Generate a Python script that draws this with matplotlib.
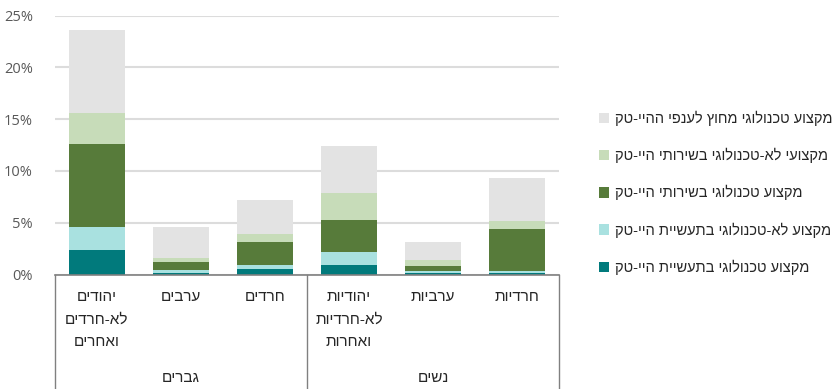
import matplotlib
matplotlib.use("agg")
import matplotlib.pyplot as plt
import matplotlib.transforms as mtransforms
from matplotlib.lines import Line2D
from matplotlib.patches import Patch
import numpy as np

plt.rcParams["font.family"] = ["Open Sans", "DejaVu Sans"]
HEB_FONT = ["Liberation Sans", "DejaVu Sans"]

# data (percent), bottom to top of each stack
categories = ["יהודים\nלא-חרדים\nואחרים", "ערבים", "חרדים",
              "יהודיות\nלא-חרדיות\nואחרות", "ערביות", "חרדיות"]
groups = ["גברים", "נשים"]
tech_in_industry = [2.4, 0.15, 0.55, 0.9, 0.1, 0.15]
nontech_in_industry = [2.2, 0.33, 0.4, 1.3, 0.22, 0.15]
tech_in_services = [8.0, 0.7, 2.2, 3.05, 0.5, 4.05]
nontech_in_services = [3.0, 0.4, 0.75, 2.65, 0.58, 0.8]
tech_outside = [8.0, 3.0, 3.25, 4.5, 1.75, 4.2]
series_labels = ["מקצוע טכנולוגי בתעשיית היי-טק",
                 "מקצוע לא-טכנולוגי בתעשיית היי-טק",
                 "מקצוע טכנולוגי בשירותי היי-טק",
                 "מקצועי לא-טכנולוגי בשירותי היי-טק",
                 "מקצוע טכנולוגי מחוץ לענפי ההיי-טק"]
colors = ["#017a7c", "#a9e1e0", "#577b3a", "#c7dcb9", "#e3e3e3"]
yticks = [0, 5, 10, 15, 20, 25]


def heb(s):
    # matplotlib has no bidi, so flip each line to visual order
    return "\n".join(line[::-1] for line in s.split("\n"))


fig = plt.figure(figsize=(8.34, 3.89), dpi=100)
W, H = 834, 389
ax = fig.add_axes([55 / W, 1 - 274.5 / H, 504 / W, 259 / H])

x = np.arange(len(categories))
series = [tech_in_industry, nontech_in_industry, tech_in_services,
          nontech_in_services, tech_outside]
bottom = np.zeros(len(categories))
handles = []
for vals, col, lab in zip(series, colors, series_labels):
    ax.bar(x, vals, bottom=bottom, width=0.667, color=col, linewidth=0, zorder=3)
    bottom += np.array(vals)
    handles.append(Patch(facecolor=col, label=heb(lab)))

ax.set_xlim(-0.5, 5.5)
ax.set_ylim(0, 25)
ax.set_yticks(yticks)
ax.set_yticklabels([f"{t}%" for t in yticks], color="#595959", fontsize=10.5)
ax.tick_params(axis="y", length=0, pad=16)
ax.set_xticks([])
ax.grid(axis="y", color="#dcdcdc", linewidth=1.5, zorder=0)
for s in ["left", "right", "top"]:
    ax.spines[s].set_visible(False)
ax.spines["bottom"].set_color("#808080")
ax.spines["bottom"].set_linewidth(1.2)
ax.spines["bottom"].set_zorder(4)

# group separators below the axis
for px in [55, 307, 559]:
    fig.add_artist(Line2D([px / W, px / W], [0, 1 - 274.5 / H],
                          color="#808080", linewidth=1.0))

trans = mtransforms.blended_transform_factory(ax.transData, fig.transFigure)
for i, c in enumerate(categories):
    ax.text(i, 1 - 290 / H, heb(c), transform=trans, ha="center", va="top",
            fontsize=11, color="#262626", linespacing=1.75, family=HEB_FONT)
for j, g in enumerate(groups):
    ax.text(1 + 3 * j, 1 - 378 / H, heb(g), transform=trans, ha="center",
            va="center", fontsize=11, color="#262626", family=HEB_FONT)

fig.legend(handles=handles[::-1], loc="upper left",
           bbox_to_anchor=(599 / W, 1 - 111 / H), frameon=False,
           borderpad=0, borderaxespad=0, labelcolor="#262626",
           prop={"family": HEB_FONT, "size": 10.5},
           handlelength=0.7, handleheight=0.7, handletextpad=0.4,
           labelspacing=1.5)

fig.savefig("out.png", dpi=100)
